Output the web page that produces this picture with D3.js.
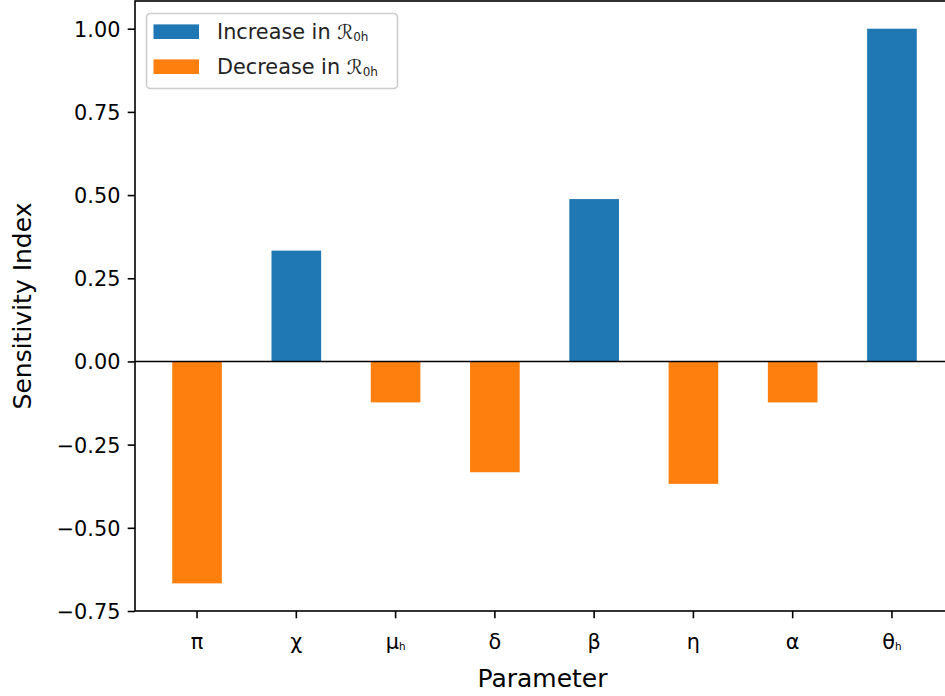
<!DOCTYPE html>
<html>
<head>
<meta charset="utf-8">
<script src="https://cdn.jsdelivr.net/npm/d3@7"></script>
<style>
  html, body { margin: 0; padding: 0; background: #fff; }
  svg { display: block; font-family: "DejaVu Sans", sans-serif; }
</style>
</head>
<body>
<svg id="chart" width="945" height="696"></svg>
<script>
// ---- data ----
const categories = ["π", "χ", "μ", "δ", "β", "η", "α", "θ"];
const categorySubscripts = ["", "", "h", "", "", "", "", "h"];
const sensitivity = [-0.667, 0.333, -0.123, -0.333, 0.488, -0.368, -0.123, 1.0];
const yTicks = [-0.75, -0.5, -0.25, 0.0, 0.25, 0.5, 0.75, 1.0];
const legendLabels = ["Increase in ", "Decrease in "];
const legendSymbol = "ℛ";
const legendSubscript = "0h";
const xLabel = "Parameter";
const yLabel = "Sensitivity Index";

(function () {
// ---- layout ----
const W = 945, H = 696;
const mLeft = 135, mRight = 954, mTop = 1, mBottom = 611;
const blue = "#1f77b4", orange = "#ff7f0e";

const svg = d3.select("#chart");
svg.append("rect").attr("width", W).attr("height", H).attr("fill", "#fff");

const x = d3.scaleBand()
  .domain(categories.map((c, i) => i))
  .range([mLeft, mRight])
  .paddingInner(0.5)
  .paddingOuter(0.375);

const y = d3.scaleLinear().domain([-0.75, 1.0833]).range([mBottom, mTop]);

// bars
svg.append("g").selectAll("rect")
  .data(sensitivity)
  .join("rect")
  .attr("x", (d, i) => x(i))
  .attr("width", x.bandwidth())
  .attr("y", d => y(Math.max(0, d)))
  .attr("height", d => Math.abs(y(d) - y(0)))
  .attr("fill", d => d >= 0 ? blue : orange);

// zero line
svg.append("line")
  .attr("x1", mLeft).attr("x2", mRight)
  .attr("y1", y(0)).attr("y2", y(0))
  .attr("stroke", "#000").attr("stroke-width", 1.5);

// axes
const tickFont = 20.8;
const yAxis = d3.axisLeft(y).tickValues(yTicks)
  .tickFormat(d => d3.format(".2f")(d).replace("-", "\u2212"))
  .tickSize(7.3).tickPadding(7.3);
const gy = svg.append("g").attr("transform", `translate(${mLeft},0)`).call(yAxis);
gy.select(".domain").remove();
gy.selectAll(".tick line").attr("stroke", "#000").attr("stroke-width", 1.6);
gy.selectAll(".tick text").attr("font-size", tickFont).attr("fill", "#000")
  .attr("font-family", "DejaVu Sans").attr("dy", "0.36em");

const xAxis = d3.axisBottom(x).tickSize(7.3).tickPadding(7.3).tickFormat(() => "");
const gx = svg.append("g").attr("transform", `translate(0,${mBottom})`).call(xAxis);
gx.select(".domain").remove();
gx.selectAll(".tick line").attr("stroke", "#000").attr("stroke-width", 1.6);
gx.selectAll(".tick text").each(function(d) {
  const t = d3.select(this)
    .attr("font-size", tickFont).attr("fill", "#000")
    .attr("font-family", "DejaVu Sans")
    .attr("y", 38).attr("dy", null);
  t.append("tspan").text(categories[d]);
  if (categorySubscripts[d]) {
    t.append("tspan").attr("font-size", tickFont * 0.5).attr("dy", 1)
      .text(categorySubscripts[d]);
  }
});

// spines
svg.append("rect")
  .attr("x", mLeft).attr("y", mTop)
  .attr("width", mRight - mLeft).attr("height", mBottom - mTop)
  .attr("fill", "none").attr("stroke", "#000").attr("stroke-width", 1.6);

// axis labels
svg.append("text")
  .attr("x", (mLeft + mRight) / 2 - 2).attr("y", 687)
  .attr("text-anchor", "middle").attr("font-size", 25).attr("fill", "#000")
  .text(xLabel);
svg.append("text")
  .attr("transform", `translate(31,${(mTop + mBottom) / 2}) rotate(-90)`)
  .attr("text-anchor", "middle").attr("font-size", 25).attr("fill", "#000")
  .text(yLabel);

// legend
const lg = svg.append("g");
lg.append("rect")
  .attr("x", 146.5).attr("y", 13.5).attr("width", 251).attr("height", 75)
  .attr("rx", 4).attr("fill", "#fff").attr("fill-opacity", 0.8)
  .attr("stroke", "#cccccc").attr("stroke-width", 1.6);
const legendColors = [blue, orange];
legendLabels.forEach((lab, i) => {
  const cy = 31.7 + i * 35;
  lg.append("rect").attr("x", 153.5).attr("y", cy - 7.3)
    .attr("width", 45.5).attr("height", 14.6).attr("fill", legendColors[i]);
  const t = lg.append("text").attr("x", 217).attr("y", cy + 7.6)
    .attr("font-size", tickFont).attr("fill", "#222");
  t.append("tspan").text(lab);
  t.append("tspan").attr("font-family", "DejaVu Serif, DejaVu Sans").attr("font-size", 20).text(legendSymbol);
  t.append("tspan").attr("font-size", 12).attr("dy", 2).text(legendSubscript);
});
})();
</script>
</body>
</html>
